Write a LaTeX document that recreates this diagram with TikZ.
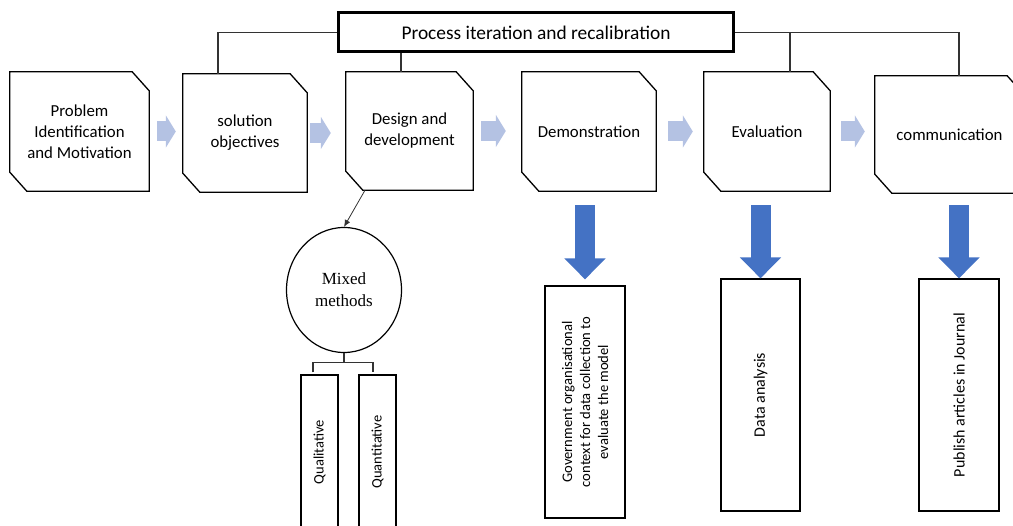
\documentclass[tikz,border=0pt]{standalone}
\usepackage{fontspec}
\setmainfont{Carlito}
\newfontfamily\mmfont{Liberation Serif}
\usetikzlibrary{arrows.meta,shapes.geometric}
\definecolor{flowfill}{RGB}{180,194,227}
\definecolor{downblue}{RGB}{68,114,196}
\tikzset{
  stage/.style={rectangle, inner sep=0pt, align=center, font=\fontsize{16.8}{21}\selectfont},
  outline/.style={draw=black, line width=1.3pt, line join=miter},
  topbar/.style={draw=black, line width=3pt, minimum width=395pt, minimum height=39pt, inner sep=0pt, font=\fontsize{19.4}{22}\selectfont},
  result/.style={draw=black, line width=1.2pt, inner sep=0pt, align=center, rotate=90, font=\fontsize{16}{18.5}\selectfont},
  mixed/.style={ellipse, draw=black, line width=1.2pt, minimum width=115pt, minimum height=125pt, inner sep=0pt, align=center, font=\mmfont\fontsize{17}{22}\selectfont},
  link/.style={draw=black!80, line width=1.2pt},
  flowarrow/.style={draw=flowfill, line width=20pt, -{Triangle[length=10pt,width=32pt]}},
  downarrow/.style={draw=downblue, line width=20pt, -{Triangle[length=21pt,width=40pt]}}
}
\begin{document}
\begin{tikzpicture}[x=1pt,y=-1pt]
\useasboundingbox (0,0) rectangle (1013,526);
\clip (0,0) rectangle (1013,526);
% top bar
\node[topbar] (iter) at (536,32.5) {Process iteration and recalibration};
% stages
\node[stage, minimum width=139pt, minimum height=119pt] (b1) at (79.5,131.5) {Problem\\Identification\\and Motivation};
\node[stage, minimum width=124pt, minimum height=118pt] (b2) at (245,133) {solution\\objectives};
\node[stage, minimum width=127pt, minimum height=118pt] (b3) at (409.5,131) {Design and\\development};
\node[stage, minimum width=134pt, minimum height=119pt] (b4) at (589,131.5) {Demonstration};
\node[stage, minimum width=126pt, minimum height=119pt] (b5) at (767,131.5) {Evaluation};
\node[stage, minimum width=149pt, minimum height=117pt] (b6) at (949.5,134.5) {communication};
\foreach \b in {b1,b2,b3,b4,b5,b6}
  \draw[outline] ([xshift=-17pt]\b.north east) -- ([yshift=-19pt]\b.north east) -- (\b.south east)
    -- ([xshift=17pt]\b.south west) -- ([yshift=19pt]\b.south west) -- (\b.north west) -- cycle;
% links from the top bar
\draw[link] (iter.west) -| ([xshift=-27pt]b2.north);
\draw[link] ([xshift=-8.5pt]b3.north) -- ([xshift=-8.5pt]b3.north |- iter.south);
\draw[link] (iter.east) -| ([xshift=9.5pt]b6.north);
\draw[link] ([xshift=23pt]b5.north) -- ([xshift=23pt]b5.north |- iter.east);
% flow between stages
\draw[flowarrow, shorten <=8pt, shorten >=7pt] (b1.east) -- (b1.east -| b2.west);
\draw[flowarrow, shorten <=3pt, shorten >=15pt] (b2.east) -- (b2.east -| b3.west);
\draw[flowarrow, shorten <=8pt, shorten >=16pt] (b3.east) -- (b3.east -| b4.west);
\draw[flowarrow, shorten <=12pt, shorten >=11pt] (b4.east) -- (b4.east -| b5.west);
\draw[flowarrow, shorten <=11pt, shorten >=10pt] (b5.east) -- (b5.east -| b6.west);
% outputs
\node[result, minimum width=232pt, minimum height=80pt, font=\fontsize{14.6}{18}\selectfont] (gov) at (585,402) {Government organisational\\context for data collection to\\evaluate the model};
\node[result, minimum width=232pt, minimum height=79pt] (data) at (760.5,395) {Data analysis};
\node[result, minimum width=232pt, minimum height=80pt] (pub) at (959,395) {Publish articles in Journal};
\draw[downarrow, shorten <=14pt, shorten >=6pt] (gov.east |- b4.south) -- (gov.east);
\draw[downarrow, shorten <=14pt] (data.east |- b5.south) -- (data.east);
\draw[downarrow, shorten <=12pt] (pub.east |- b6.south) -- (pub.east);
% mixed methods
\node[mixed] (mm) at (344,290) {Mixed\\methods};
\node[result, minimum width=154pt, minimum height=37pt, font=\fontsize{14.5}{17}\selectfont] (qual) at (319.5,452) {Qualitative};
\node[result, minimum width=154pt, minimum height=37pt, font=\fontsize{14.5}{17}\selectfont] (quant) at (377.5,452) {Quantitative};
\draw[link, line width=0.8pt, -{Latex[length=7pt,width=6pt]}] ([xshift=-44.5pt]b3.south) -- (mm.north);
\draw[link] (mm.south) -- ++(0,9.5) coordinate (fork);
\draw[link] ([xshift=-6.5pt,yshift=2pt]qual.east) |- (fork) -| ([xshift=-4.5pt,yshift=2pt]quant.east);
\end{tikzpicture}
\end{document}
